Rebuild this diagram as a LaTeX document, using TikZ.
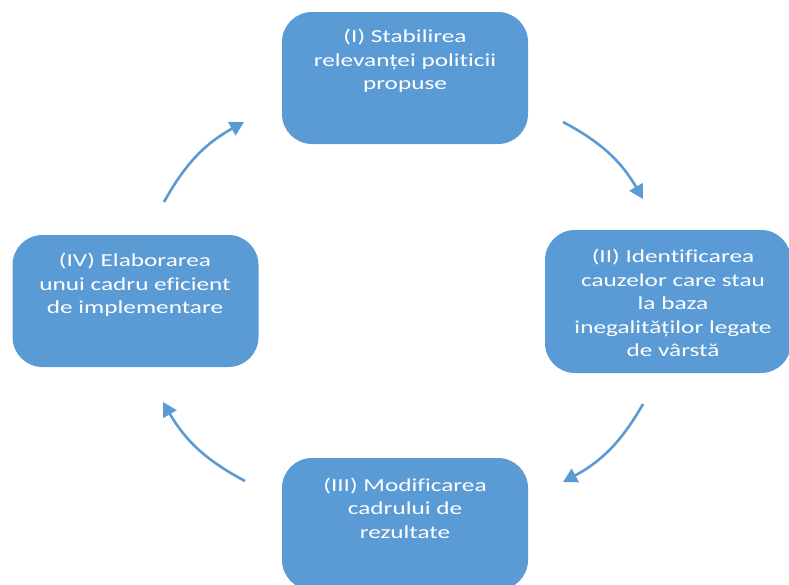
\documentclass[tikz,border=0pt]{standalone}
\usepackage{fontspec}
\setmainfont{Carlito}
\newfontfamily\boxfont[FakeStretch=1.38,Ligatures=NoCommon]{Carlito}
\usetikzlibrary{arrows.meta}
\definecolor{officeblue}{HTML}{5B9BD5}
\begin{document}
\begin{tikzpicture}[x=1pt,y=-1pt,
  stagebox/.style={fill=officeblue, draw=none, rounded corners=30pt,
    minimum width=246pt, minimum height=132pt, inner sep=0pt},
  stagetext/.style={text=white, font=\boxfont\fontsize{18.3}{23.5}\selectfont,
    align=center, inner sep=0pt},
  cyclearrow/.style={draw=officeblue, line width=2.6pt,
    -{Triangle[length=14pt,width=15pt]}}]
\useasboundingbox (0,0) rectangle (789,584);
\begin{scope}
  \clip (0,0) rectangle (789,584);
  \node[stagebox] (b1) at (405,78) {};
  \node[stagebox, minimum height=143pt] (b2) at (668,301.5) {};
  \node[stagebox] (b3) at (405,524) {};
  \node[stagebox] (b4) at (135.5,301) {};
\end{scope}
\node[stagetext] (t1) at (405,61) {(I) Stabilirea\\relevanței politicii\\propuse};
\node[stagetext] (t2) at (673,303) {(II) Identificarea\\cauzelor care stau\\la baza\\inegalităților legate\\de vârstă};
\node[stagetext] (t3) at (405,508) {(III) Modificarea\\cadrului de\\rezultate};
\node[stagetext] (t4) at (135,285) {(IV) Elaborarea\\unui cadru eficient\\de implementare};
\coordinate (a1s) at (563,122);
\coordinate (a1e) at (643,199);
\coordinate (a2s) at (643,404);
\coordinate (a2e) at (563,482);
\coordinate (a3s) at (245,481);
\coordinate (a3e) at (163,402);
\coordinate (a4s) at (164,202);
\coordinate (a4e) at (244,122);
\draw[cyclearrow] (a1s) to[bend left=16] (a1e);
\draw[cyclearrow] (a2s) to[bend left=16] (a2e);
\draw[cyclearrow] (a3s) to[bend left=16] (a3e);
\draw[cyclearrow] (a4s) to[bend left=16] (a4e);
\end{tikzpicture}
\end{document}
